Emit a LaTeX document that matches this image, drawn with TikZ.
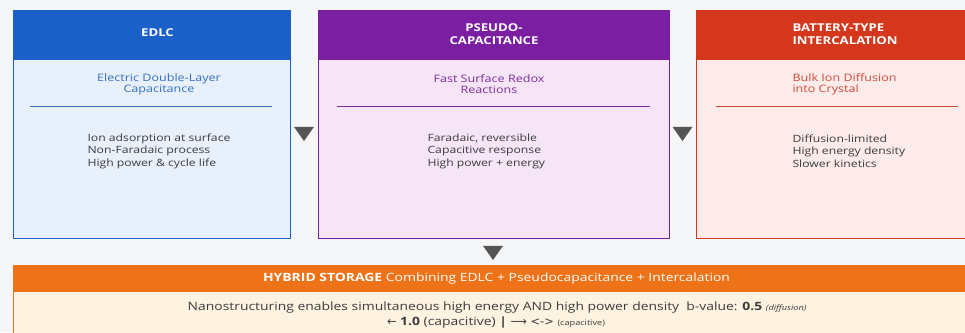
\documentclass[tikz,border=0pt]{standalone}
\usepackage{fontspec}
\setmainfont[FakeStretch=1.22]{Open Sans}
\newfontfamily\symfont{DejaVu Sans}
\usetikzlibrary{shapes.geometric, positioning}

\definecolor{pagebg}{HTML}{F5F6F8}
\definecolor{edlcblue}{HTML}{1B5FC9}
\definecolor{edlcbg}{HTML}{E7F0FB}
\definecolor{edlcsubc}{HTML}{3570C0}
\definecolor{pseudopurple}{HTML}{7A1FA2}
\definecolor{pseudobg}{HTML}{F5E5F7}
\definecolor{pseudosubc}{HTML}{7B2D9A}
\definecolor{batred}{HTML}{D4371C}
\definecolor{batbg}{HTML}{FDEBEA}
\definecolor{batsubc}{HTML}{D04A38}
\definecolor{hyborange}{HTML}{EE7318}
\definecolor{hybbg}{HTML}{FEF2E1}
\definecolor{bodytext}{HTML}{3C3C3C}
\definecolor{marker}{HTML}{555555}

\begin{document}
\begin{tikzpicture}[x=1pt, y=-1pt,
    panel/.style={draw, line width=1.2pt, rectangle, anchor=north west, minimum height=228pt},
    head/.style={rectangle, anchor=north west, minimum height=50pt},
    title/.style={text=white, font=\bfseries\fontsize{10.8}{13}\selectfont},
    sub/.style={font=\fontsize{10.3}{11}\selectfont, align=center},
    facts/.style={font=\fontsize{10}{12.5}\selectfont, text=bodytext, align=left, anchor=west},
    sep/.style={line width=0.6pt},
    marker/.style={isosceles triangle, isosceles triangle apex angle=70, shape border rotate=-90, fill=marker, inner sep=0pt, minimum width=20pt, minimum height=14pt}]
  \fill[pagebg] (0,0) rectangle (965,332);
  \useasboundingbox (0,0) rectangle (965,332);

  % EDLC
  \node (edlc) [panel, draw=edlcblue, fill=edlcbg, minimum width=277pt] at (13,10) {};
  \node (edlchead) [head, fill=edlcblue, minimum width=277pt] at (13,10) {};
  \node (edlctitle) [title] at (157.5,33) {EDLC};
  \node (edlcsub) [sub, text=edlcsubc] at (159,84) {Electric Double-Layer\\Capacitance};
  \draw[sep, edlcsubc] (30,106) -- (272,106);
  \node (edlcfacts) [facts] at (84,151) {Ion adsorption at surface\\Non-Faradaic process\\High power \& cycle life};

  % Pseudocapacitance
  \node (pseudo) [panel, draw=pseudopurple, fill=pseudobg, minimum width=351pt] at (318,10) {};
  \node (pseudohead) [head, fill=pseudopurple, minimum width=351pt] at (318,10) {};
  \node (pseudotitle) [title, align=center] at (494,34) {PSEUDO-\\CAPACITANCE};
  \node (pseudosub) [sub, text=pseudosubc] at (489,84) {Fast Surface Redox\\Reactions};
  \draw[sep, pseudosubc] (337,106) -- (650,106);
  \node (pseudofacts) [facts] at (424,151) {Faradaic, reversible\\Capacitive response\\High power + energy};

  % Battery-type
  \node (bat) [panel, draw=batred, fill=batbg, minimum width=282pt] at (696,10) {};
  \node (bathead) [head, fill=batred, minimum width=282pt] at (696,10) {};
  \node (battitle) [title, anchor=west, align=left] at (789,34) {BATTERY-TYPE\\INTERCALATION};
  \node (batsub) [anchor=west, sub, align=left, text=batsubc] at (789,84) {Bulk Ion Diffusion\\into Crystal};
  \draw[sep, batsubc] (716,106) -- (958,106);
  \node (batfacts) [facts] at (789,151) {Diffusion-limited\\High energy density\\Slower kinetics};

  % markers between panels
  \node (markA) [marker] at (304,132) {};
  \node (markB) [marker] at (682.5,132) {};
  \node (markC) [marker] at (493,251) {};

  % Hybrid
  \node (hybrid) [rectangle, anchor=north west, fill=hybbg, draw=hyborange, line width=1.2pt, minimum width=970pt, minimum height=80pt] at (13,265) {};
  \node (hybridhead) [rectangle, anchor=north west, fill=hyborange, minimum width=970pt, minimum height=27pt] at (13,265) {};
  \node (hybridtitle) [text=white, font=\fontsize{11.4}{12}\selectfont] at (496.5,278.5) {\textbf{HYBRID STORAGE} Combining EDLC + Pseudocapacitance + Intercalation};
  \node (hybridnote) [text=bodytext, font=\fontsize{11.4}{12}\selectfont] at (497,307.5) {Nanostructuring enables simultaneous high energy AND high power density\ \ b-value: \textbf{0.5} {\itshape\fontsize{7.5}{8}\selectfont (diffusion)}};
  \node (hybridb) [text=bodytext, font=\fontsize{11.4}{12}\selectfont] at (496,323) {{\symfont ←} \textbf{1.0} (capacitive) \textbf{|} {\symfont ⟶} {\symfont <->} {\fontsize{7.5}{8}\selectfont (capacitive)}};
\end{tikzpicture}
\end{document}
